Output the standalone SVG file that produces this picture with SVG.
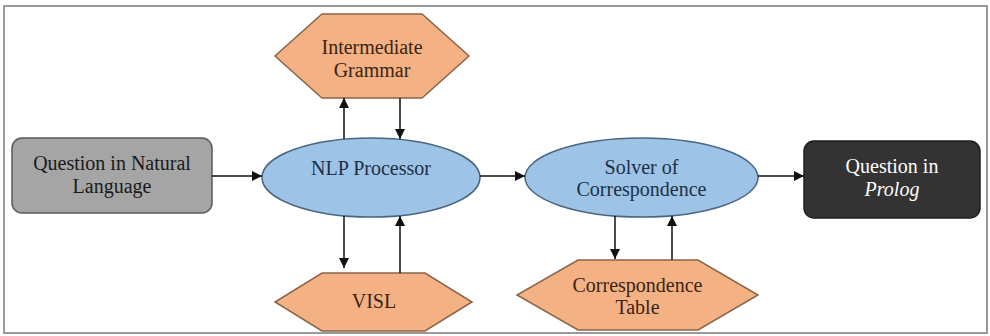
<svg xmlns="http://www.w3.org/2000/svg" width="990" height="336" viewBox="0 0 990 336">
<style>
.frame{fill:#fff;stroke:#9a9a9a;stroke-width:2}
.hex{fill:#f4b183;stroke:#8a6448;stroke-width:1.5}
.ell{fill:#9dc3e6;stroke:#4a6580;stroke-width:1.5}
.gray{fill:#a5a5a5;stroke:#5a5a5a;stroke-width:1.5}
.dark{fill:#333333;stroke:#1e1e1e;stroke-width:1.5}
text{font-family:'Times New Roman',Tinos,'Liberation Serif','DejaVu Serif','Noto Serif',serif;font-size:20px;text-anchor:middle}
.th{fill:#3a2416}
.te{fill:#1e2f45}
.tg{fill:#1a1a1a}
.tw{fill:#ffffff}
.conn line{stroke:#111;stroke-width:1.5;marker-end:url(#ah)}
</style>
<defs>
<marker id="ah" viewBox="0 0 10 10" refX="10" refY="5" markerWidth="11" markerHeight="10" markerUnits="userSpaceOnUse" orient="auto">
<path d="M0,0 L10,5 L0,10 z" fill="#111"/>
</marker>
</defs>
<rect class="frame" x="4" y="6" width="983" height="327"/>
<g id="n-question-nl">
<rect class="gray" x="12" y="138" width="200" height="75" rx="10"/>
<text class="tg" x="112" y="170">Question in Natural</text>
<text class="tg" x="112" y="193">Language</text>
</g>
<g id="n-intermediate-grammar">
<polygon class="hex" points="322,14 422,14 469,56 422,98 322,98 275,56"/>
<text class="th" x="372" y="54">Intermediate</text>
<text class="th" x="372" y="77">Grammar</text>
</g>
<g id="n-nlp">
<ellipse class="ell" cx="371" cy="177.5" rx="109" ry="39.5"/>
<text class="te" x="371" y="175">NLP Processor</text>
</g>
<g id="n-visl">
<polygon class="hex" points="322,273 425,273 472,302 425,331 322,331 275,302"/>
<text class="th" x="374" y="308">VISL</text>
</g>
<g id="n-solver">
<ellipse class="ell" cx="641.5" cy="177.5" rx="116.5" ry="39.5"/>
<text class="te" x="641.5" y="174">Solver of</text>
<text class="te" x="641.5" y="196">Correspondence</text>
</g>
<g id="n-corr-table">
<polygon class="hex" points="578,260 698,260 758,295 698,330 578,330 517,295"/>
<text class="th" x="637.5" y="292">Correspondence</text>
<text class="th" x="637.5" y="314">Table</text>
</g>
<g id="n-prolog">
<rect class="dark" x="804" y="141" width="176" height="77" rx="10"/>
<text class="tw" x="892" y="173">Question in</text>
<text class="tw" x="892" y="196" font-style="italic">Prolog</text>
</g>
<g class="conn" id="connectors">
<line x1="212" y1="176" x2="262" y2="176"/>
<line x1="480" y1="176" x2="525" y2="176"/>
<line x1="758" y1="176" x2="804" y2="176"/>
<line x1="344" y1="139" x2="344" y2="98"/>
<line x1="400" y1="98" x2="400" y2="139"/>
<line x1="344" y1="216" x2="344" y2="268"/>
<line x1="400" y1="273" x2="400" y2="216"/>
<line x1="615" y1="216" x2="615" y2="259"/>
<line x1="672" y1="260" x2="672" y2="216"/>
</g>
</svg>
